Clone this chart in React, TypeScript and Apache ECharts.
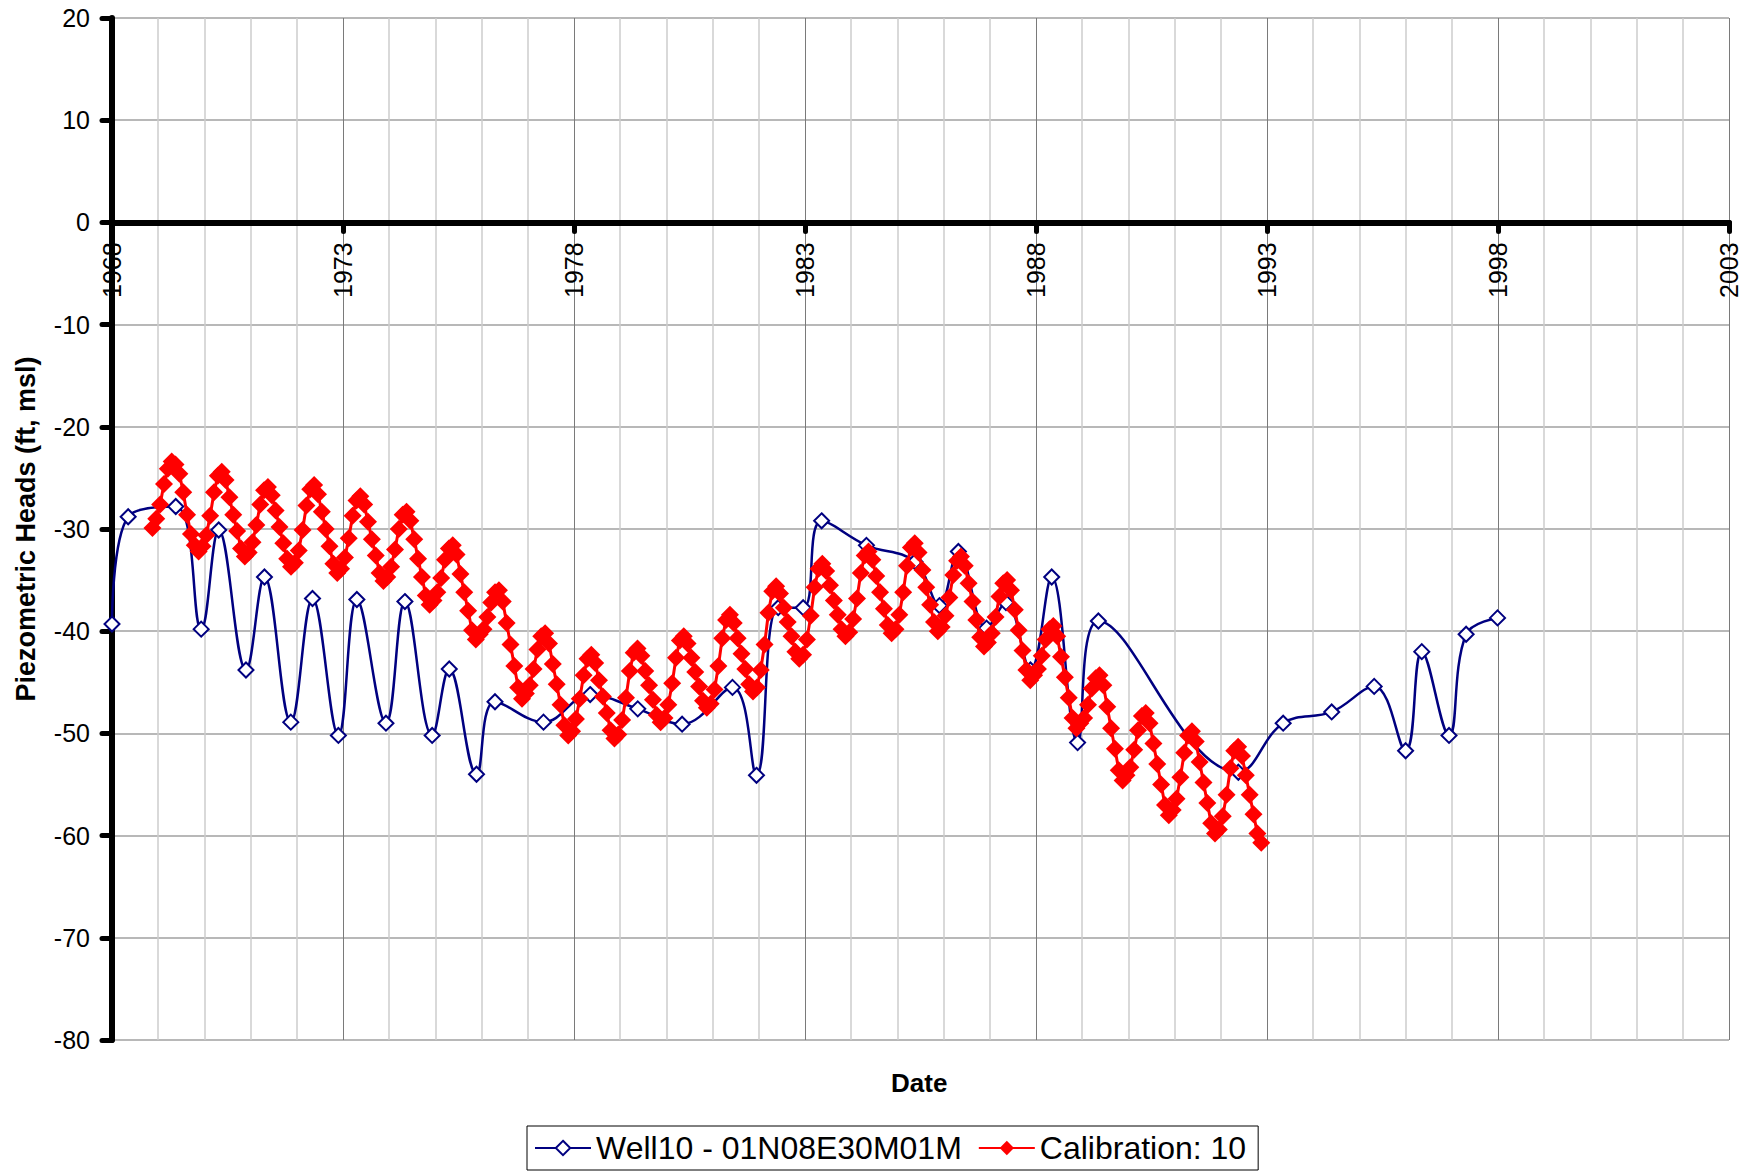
import React, { useEffect, useRef } from "react";
import * as echarts from "echarts";

// Axis ranges / ticks
const xMin = 1968;
const xMax = 2003;
const xStep = 5;
const yMin = -80;
const yMax = 20;
const yStep = 10;

// Observed heads: Well10 - 01N08E30M01M (decimal year, ft msl)
const wellDates = [
  1968.0, 1968.35, 1969.38, 1969.93, 1970.31, 1970.9, 1971.3, 1971.87, 1972.34, 1972.9,
  1973.3, 1973.93, 1974.34, 1974.93, 1975.3, 1975.89, 1976.29, 1977.34, 1978.35, 1979.38,
  1980.34, 1981.43, 1981.95, 1982.42, 1982.96, 1983.36, 1984.33, 1985.38, 1985.91, 1986.32,
  1986.93, 1987.35, 1987.88, 1988.34, 1988.9, 1989.35, 1992.38, 1993.35, 1994.4, 1995.32,
  1996.0, 1996.35, 1996.94, 1997.31, 1997.99,
];
const wellHeads = [
  -39.3, -28.8, -27.8, -39.8, -30.1, -43.8, -34.7, -48.9, -36.8, -50.2,
  -36.9, -49.0, -37.1, -50.2, -43.7, -54.0, -46.9, -48.9, -46.2, -47.6,
  -49.1, -45.5, -54.1, -37.7, -37.7, -29.2, -31.6, -33.2, -37.5, -32.2,
  -39.7, -37.2, -43.8, -34.7, -50.9, -39.0, -53.8, -49.0, -47.9, -45.4,
  -51.7, -42.0, -50.2, -40.3, -38.7,
];

// Calibration: 10 — monthly simulated heads starting Nov 1968
const calibStartYear = 1968;
const calibStartMonth = 11;
const calibHeads = [
  -29.9, -29.0,
  -27.6, -25.6, -24.1, -23.4, -23.7, -24.6, -26.4, -28.6, -30.5, -31.6, -32.2, -31.7,
  -30.6, -28.7, -26.4, -24.8, -24.4, -25.2, -26.9, -28.6, -30.2, -31.9, -32.7, -32.3,
  -31.3, -29.6, -27.6, -26.2, -25.9, -26.7, -28.2, -29.8, -31.4, -32.9, -33.7, -33.3,
  -32.1, -30.1, -27.7, -26.1, -25.7, -26.6, -28.3, -30.0, -31.7, -33.4, -34.3, -33.9,
  -32.8, -30.9, -28.7, -27.2, -26.8, -27.6, -29.3, -31.0, -32.6, -34.3, -35.1, -34.7,
  -33.7, -32.0, -30.0, -28.6, -28.3, -29.2, -31.0, -32.9, -34.7, -36.5, -37.4, -37.0,
  -36.2, -34.8, -33.0, -31.9, -31.6, -32.5, -34.4, -36.2, -38.0, -39.9, -40.8, -40.3,
  -39.8, -38.6, -37.2, -36.2, -36.0, -37.1, -39.2, -41.3, -43.4, -45.5, -46.6, -46.1,
  -45.3, -43.7, -41.8, -40.5, -40.2, -41.2, -43.2, -45.2, -47.2, -49.2, -50.2, -49.8,
  -48.6, -46.6, -44.3, -42.7, -42.3, -43.1, -44.8, -46.4, -48.0, -49.7, -50.5, -50.1,
  -48.7, -46.5, -43.9, -42.1, -41.7, -42.4, -43.9, -45.3, -46.7, -48.2, -48.9, -48.5,
  -47.2, -45.1, -42.6, -40.9, -40.5, -41.2, -42.6, -44.0, -45.4, -46.8, -47.5, -47.1,
  -45.7, -43.4, -40.7, -38.9, -38.4, -39.2, -40.7, -42.2, -43.7, -45.2, -45.9, -45.5,
  -43.8, -41.3, -38.2, -36.1, -35.6, -36.3, -37.7, -39.1, -40.5, -42.0, -42.7, -42.3,
  -40.8, -38.5, -35.7, -33.9, -33.4, -34.1, -35.5, -37.0, -38.4, -39.8, -40.5, -40.1,
  -38.8, -36.8, -34.3, -32.6, -32.2, -33.0, -34.6, -36.2, -37.8, -39.4, -40.2, -39.8,
  -38.4, -36.2, -33.6, -31.8, -31.4, -32.3, -34.0, -35.7, -37.4, -39.1, -40.0, -39.6,
  -38.5, -36.7, -34.5, -33.1, -32.7, -33.6, -35.3, -37.1, -38.9, -40.6, -41.5, -41.1,
  -40.2, -38.6, -36.6, -35.3, -35.0, -36.0, -37.9, -39.9, -41.9, -43.8, -44.8, -44.3,
  -43.7, -42.4, -40.8, -39.8, -39.5, -40.5, -42.5, -44.5, -46.5, -48.5, -49.5, -49.0,
  -48.5, -47.2, -45.6, -44.6, -44.3, -45.3, -47.4, -49.5, -51.5, -53.6, -54.6, -54.1,
  -53.3, -51.6, -49.7, -48.3, -48.0, -49.0, -51.0, -53.0, -55.0, -57.0, -58.0, -57.5,
  -56.4, -54.3, -51.9, -50.2, -49.8, -50.8, -52.8, -54.8, -56.8, -58.8, -59.8, -59.4,
  -58.1, -56.0, -53.4, -51.7, -51.3, -52.2, -54.1, -56.0, -57.9, -59.8, -60.7,
];

const seriesNames = ["Well10 - 01N08E30M01M", "Calibration: 10"];
const xAxisTitle = "Date";
const yAxisTitle = "Piezometric Heads (ft, msl)";

const FONT = "'Liberation Sans', Arial, sans-serif";

const GRID_LEFT = 112;
const GRID_TOP = 18;
const GRID_BOTTOM = 135;
const CHART_H = 1175;

export default function App() {
  const ref = useRef<HTMLDivElement>(null);

  useEffect(() => {
    if (!ref.current) return;
    const chart = echarts.init(ref.current, undefined, { renderer: "svg" });

    const wellData = wellDates.map((d, i) => [d, wellHeads[i]]);
    const calibData = calibHeads.map((v, i) => {
      const m = calibStartMonth - 1 + i;
      return [calibStartYear + (m + 0.5) / 12, v];
    });

    // pixel offset to lift the label axis from the grid bottom up to y = 0
    const plotH = CHART_H - GRID_TOP - GRID_BOTTOM;
    const zeroOffset = -plotH * ((0 - yMin) / (yMax - yMin));

    chart.setOption({
      animation: false,
      backgroundColor: "#ffffff",
      textStyle: { fontFamily: FONT, color: "#000" },
      grid: {
        left: GRID_LEFT,
        right: 24,
        top: GRID_TOP,
        bottom: GRID_BOTTOM,
        containLabel: false,
        outerBoundsMode: "none",
      },
      xAxis: [
        {
          type: "value",
          min: xMin,
          max: xMax,
          interval: xStep,
          axisLine: {
            show: true,
            onZero: true,
            lineStyle: { color: "#000", width: 6, cap: "round" },
          },
          axisTick: {
            show: true,
            length: 9,
            lineStyle: { color: "#000", width: 5, cap: "round" },
          },
          axisLabel: { show: false },
          splitLine: { show: true, lineStyle: { color: "#7a7a7a", width: 1 } },
          minorTick: { show: false, splitNumber: 5 },
          minorSplitLine: { show: true, lineStyle: { color: "#cccccc", width: 1.5 } },
        },
        {
          type: "value",
          position: "bottom",
          offset: zeroOffset,
          min: xMin,
          max: xMax,
          interval: xStep,
          axisLine: { show: false, onZero: false },
          axisTick: { show: false },
          splitLine: { show: false },
          axisLabel: {
            rotate: 90,
            margin: 20,
            fontSize: 25,
            fontFamily: FONT,
            color: "#000",
            showMinLabel: true,
            showMaxLabel: true,
            formatter: (v: number) => String(Math.round(v)),
          },
        },
      ],
      yAxis: {
        type: "value",
        min: yMin,
        max: yMax,
        interval: yStep,
        name: yAxisTitle,
        nameLocation: "middle",
        nameGap: 73,
        nameTextStyle: { fontSize: 27, fontWeight: "bold", fontFamily: FONT, color: "#000" },
        axisLine: {
          show: true,
          onZero: false,
          lineStyle: { color: "#000", width: 6, cap: "round" },
        },
        axisTick: {
          show: true,
          length: 10,
          lineStyle: { color: "#000", width: 5, cap: "round" },
        },
        axisLabel: { margin: 22, fontSize: 25, fontFamily: FONT, color: "#000" },
        splitLine: { show: true, lineStyle: { color: "#a0a0a0", width: 1.5 } },
      },
      legend: {
        show: true,
        left: 527,
        top: 1126,
        orient: "horizontal",
        borderColor: "#000",
        borderWidth: 1,
        padding: [6, 12, 6, 7],
        itemGap: 16,
        itemWidth: 56,
        itemHeight: 18,
        textStyle: { fontSize: 32, fontFamily: FONT, color: "#000" },
        data: seriesNames,
      },
      graphic: [
        {
          type: "text",
          left: 920 - 29,
          top: 1070,
          style: {
            text: xAxisTitle,
            font: `bold 26px ${FONT}`,
            fill: "#000",
          },
        },
      ],
      series: [
        {
          name: seriesNames[0],
          type: "line",
          xAxisIndex: 0,
          data: wellData,
          smooth: 0.4,
          symbol: "emptyDiamond",
          symbolSize: 15,
          showAllSymbol: true,
          lineStyle: { color: "#000080", width: 2.5 },
          itemStyle: { color: "#000080", borderColor: "#000080", borderWidth: 2.5 },
          z: 2,
        },
        {
          name: seriesNames[1],
          type: "line",
          xAxisIndex: 0,
          data: calibData,
          smooth: false,
          symbol: "diamond",
          symbolSize: 18,
          showAllSymbol: true,
          lineStyle: { color: "#ff0000", width: 3 },
          itemStyle: { color: "#ff0000" },
          z: 3,
        },
      ],
    });

    return () => {
      chart.dispose();
    };
  }, []);

  return (
    <div
      ref={ref}
      style={{ position: "absolute", left: 0, top: 0, width: 1753, height: 1175 }}
    />
  );
}
